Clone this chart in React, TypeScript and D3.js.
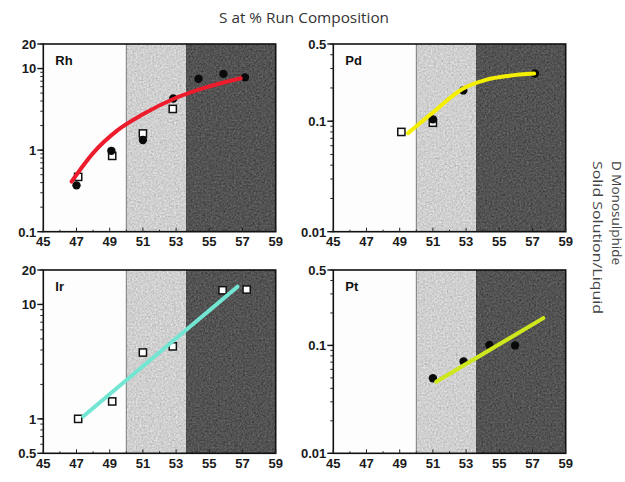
import React from "react";
import * as d3 from "d3";

// ---------- data ----------
const X_TICKS = [45, 47, 49, 51, 53, 55, 57, 59];
const ZONE_LIGHT = [50, 53.6];
const ZONE_DARK = [53.6, 59];

const RH_TICKS = [0.1, 1, 10, 20];
const RH_FILLED_X = [47, 49.1, 51.0, 52.83, 54.35, 55.85, 57.15];
const RH_FILLED_Y = [0.37, 0.98, 1.33, 4.3, 7.5, 8.6, 7.8];
const RH_OPEN_X = [47.1, 49.15, 51.0, 52.8];
const RH_OPEN_Y = [0.47, 0.85, 1.6, 3.2];
const RH_FIT_X = [46.7, 48.0, 49.5, 51.0, 52.8, 54.6, 56.9];
const RH_FIT_Y = [0.41, 0.92, 1.77, 2.75, 4.2, 5.7, 7.6];

const PD_TICKS = [0.01, 0.1, 0.5];
const PD_FILLED_X = [51.0, 52.83, 57.15];
const PD_FILLED_Y = [0.104, 0.19, 0.27];
const PD_OPEN_X = [49.1, 51.0];
const PD_OPEN_Y = [0.08, 0.097];
const PD_FIT_X = [49.5, 51.0, 52.8, 54.2, 55.6, 57.1];
const PD_FIT_Y = [0.078, 0.12, 0.197, 0.237, 0.258, 0.27];

const IR_TICKS = [0.5, 1, 10, 20];
const IR_OPEN_X = [47.1, 49.15, 51.0, 52.8, 55.8, 57.25];
const IR_OPEN_Y = [1.0, 1.42, 3.8, 4.3, 13.3, 13.5];
const IR_FIT_X = [47.4, 56.7];
const IR_FIT_Y = [1.05, 14.3];

const PT_TICKS = [0.01, 0.1, 0.5];
const PT_FILLED_X = [51.0, 52.85, 54.4, 55.95];
const PT_FILLED_Y = [0.0496, 0.071, 0.101, 0.1];
const PT_FIT_X = [51.2, 57.65];
const PT_FIT_Y = [0.046, 0.179];

const TITLE = "S at % Run Composition";
const SIDE_1 = "D Monosulphide";
const SIDE_2 = "Solid Solution/Liquid";

type PanelDef = {
  id: string;
  label: string;
  left: number;
  top: number;
  yDomain: [number, number];
  yTicks: number[];
  filledX: number[];
  filledY: number[];
  openX: number[];
  openY: number[];
  fitX: number[];
  fitY: number[];
  fitColor: string;
  curve: any;
};

const PW = 232.4;

const PANELS: PanelDef[] = [
  { id: "rh", label: "Rh", left: 43.3, top: 44, yDomain: [0.1, 20], yTicks: RH_TICKS,
    filledX: RH_FILLED_X, filledY: RH_FILLED_Y, openX: RH_OPEN_X, openY: RH_OPEN_Y,
    fitX: RH_FIT_X, fitY: RH_FIT_Y, fitColor: "#ec1c2c", curve: d3.curveMonotoneX },
  { id: "pd", label: "Pd", left: 333.3, top: 44, yDomain: [0.01, 0.5], yTicks: PD_TICKS,
    filledX: PD_FILLED_X, filledY: PD_FILLED_Y, openX: PD_OPEN_X, openY: PD_OPEN_Y,
    fitX: PD_FIT_X, fitY: PD_FIT_Y, fitColor: "#f4ef00", curve: d3.curveMonotoneX },
  { id: "ir", label: "Ir", left: 43.3, top: 270, yDomain: [0.5, 20], yTicks: IR_TICKS,
    filledX: [], filledY: [], openX: IR_OPEN_X, openY: IR_OPEN_Y,
    fitX: IR_FIT_X, fitY: IR_FIT_Y, fitColor: "#72e6d2", curve: d3.curveLinear },
  { id: "pt", label: "Pt", left: 333.3, top: 270, yDomain: [0.01, 0.5], yTicks: PT_TICKS,
    filledX: PT_FILLED_X, filledY: PT_FILLED_Y, openX: [], openY: [],
    fitX: PT_FIT_X, fitY: PT_FIT_Y, fitColor: "#cfe81c", curve: d3.curveLinear },
];

function minorTicks(lo: number, hi: number): number[] {
  const out: number[] = [];
  for (let e = -3; e <= 2; e++) {
    for (let k = 1; k <= 9; k++) {
      const v = k * Math.pow(10, e);
      if (v >= lo * 0.999 && v <= hi * 1.001) out.push(v);
    }
  }
  return out;
}

function fmt(v: number) {
  return String(v);
}

function Panel({ p }: { p: PanelDef }) {
  const ph = p.top === 44 ? 187.7 : 183.3;
  const x = d3.scaleLinear().domain([45, 59]).range([p.left, p.left + PW]);
  const y = d3.scaleLog().domain(p.yDomain).range([p.top + ph, p.top]);
  const line = d3
    .line<number>()
    .x((_, i) => x(p.fitX[i]))
    .y((d) => y(d))
    .curve(p.curve);
  const bottom = p.top + ph;
  const minors = minorTicks(p.yDomain[0], p.yDomain[1]);
  const xMinor = d3.range(45, 60, 1);
  const font = "'Liberation Sans', Arial, sans-serif";
  return (
    <g>
      <rect x={x(45)} y={p.top} width={x(ZONE_LIGHT[0]) - x(45)} height={ph} fill="#fdfdfd" />
      <rect
        x={x(ZONE_LIGHT[0])}
        y={p.top}
        width={x(ZONE_LIGHT[1]) - x(ZONE_LIGHT[0])}
        height={ph}
        fill="#d0d0d0"
        filter="url(#grain)"
      />
      <rect
        x={x(ZONE_DARK[0])}
        y={p.top}
        width={x(ZONE_DARK[1]) - x(ZONE_DARK[0])}
        height={ph}
        fill="#535353"
        filter="url(#grain)"
      />
      <line x1={x(ZONE_LIGHT[0])} x2={x(ZONE_LIGHT[0])} y1={p.top} y2={bottom} stroke="#888" strokeWidth={1} />
      {/* frame */}
      <rect x={p.left} y={p.top} width={PW} height={ph} fill="none" stroke="#111" strokeWidth={1.6} />
      {/* y minor ticks */}
      {minors.map((v) => (
        <line key={"ym" + v} x1={p.left - 3} x2={p.left} y1={y(v)} y2={y(v)} stroke="#222" strokeWidth={1} />
      ))}
      {p.yTicks.map((v) => (
        <g key={"yt" + v}>
          <line x1={p.left - 6} x2={p.left} y1={y(v)} y2={y(v)} stroke="#111" strokeWidth={1.4} />
          <text
            x={p.left - 7}
            y={y(v) + 4.8}
            textAnchor="end"
            fontFamily={font}
            fontWeight="bold"
            fontSize={13}
            fill="#1a1a1a"
          >
            {fmt(v)}
          </text>
        </g>
      ))}
      {xMinor.map((v) => (
        <line key={"xm" + v} x1={x(v)} x2={x(v)} y1={bottom} y2={bottom - (v % 2 === 1 ? 4 : 2)} stroke="#222" strokeWidth={1} />
      ))}
      {X_TICKS.map((v) => (
        <text
          key={"xt" + v}
          x={x(v)}
          y={bottom + 14.5}
          textAnchor="middle"
          fontFamily={font}
          fontWeight="bold"
          fontSize={13}
          fill="#1a1a1a"
        >
          {v}
        </text>
      ))}
      {/* symbols */}
      {p.openX.map((v, i) => (
        <rect
          key={"o" + i}
          x={x(v) - 3.6}
          y={y(p.openY[i]) - 3.6}
          width={7.2}
          height={7.2}
          fill="#fff"
          stroke="#111"
          strokeWidth={1.5}
        />
      ))}
      {p.filledX.map((v, i) => (
        <circle key={"f" + i} cx={x(v)} cy={y(p.filledY[i])} r={4.2} fill="#0a0a0a" />
      ))}
      <path d={line(p.fitY) || ""} fill="none" stroke={p.fitColor} strokeWidth={4} strokeLinecap="round" />
      <text x={p.left + 12} y={p.top + 21} fontFamily={font} fontWeight="bold" fontSize={13} fill="#111">
        {p.label}
      </text>
    </g>
  );
}

export default function App() {
  const sideFont = "'Open Sans', 'Noto Sans', sans-serif";
  return (
    <svg
      width={625}
      height={482}
      viewBox="0 0 625 482"
      style={{ position: "absolute", left: 0, top: 0, background: "#fff" }}
    >
      <defs>
        <filter id="grain" x="0" y="0" width="1" height="1" colorInterpolationFilters="sRGB">
          <feTurbulence type="fractalNoise" baseFrequency="0.55" numOctaves={2} seed={7} result="n" />
          <feColorMatrix
            in="n"
            type="matrix"
            values="0.33 0.33 0.33 0 0  0.33 0.33 0.33 0 0  0.33 0.33 0.33 0 0  0 0 0 0 1"
            result="g"
          />
          <feComposite in="SourceGraphic" in2="g" operator="arithmetic" k1={0} k2={1} k3={0.5} k4={-0.25} />
        </filter>
      </defs>
      <rect x={0} y={0} width={625} height={482} fill="#fff" />
      <text
        x={304}
        y={23}
        textAnchor="middle"
        fontFamily={sideFont}
        fontSize={14}
        textLength={170}
        lengthAdjust="spacingAndGlyphs"
        fill="#333"
      >
        {TITLE}
      </text>
      {PANELS.map((p) => (
        <Panel key={p.id} p={p} />
      ))}
      <text
        transform="translate(612,161) rotate(90)"
        fontFamily={sideFont}
        fontSize={12}
        textLength={104}
        lengthAdjust="spacingAndGlyphs"
        fill="#444"
      >
        {SIDE_1}
      </text>
      <text
        transform="translate(593,161) rotate(90)"
        fontFamily={sideFont}
        fontSize={12.5}
        textLength={153}
        lengthAdjust="spacingAndGlyphs"
        fill="#444"
      >
        {SIDE_2}
      </text>
    </svg>
  );
}
